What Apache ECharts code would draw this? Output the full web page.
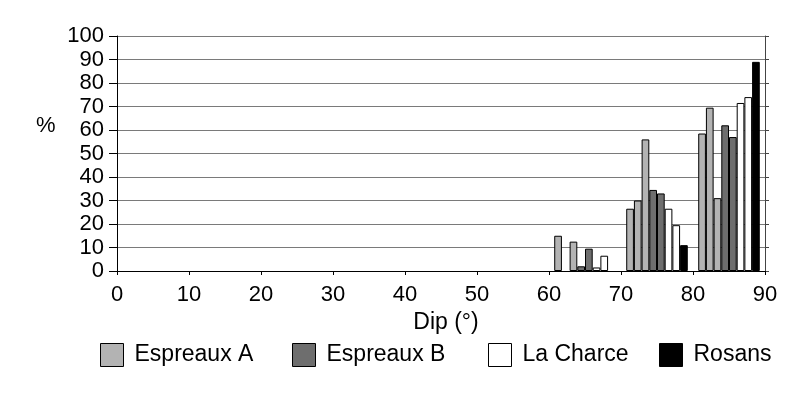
<!DOCTYPE html>
<html>
<head>
<meta charset="utf-8">
<script src="https://cdn.jsdelivr.net/npm/echarts@6/dist/echarts.min.js"></script>
<style>
html,body{margin:0;padding:0;background:#fff;}
#chart{width:806px;height:394px;}
</style>
</head>
<body>
<div id="chart"></div>
<script>
// Dip classes (10° bins); x tick labels at bin boundaries
var categories = ['0-10','10-20','20-30','30-40','40-50','50-60','60-70','70-80','80-90'];
var xTickLabels = [0,10,20,30,40,50,60,70,80,90];
var yTickLabels = [0,10,20,30,40,50,60,70,80,90,100];

// Percentages per bin (three Espreaux A sections, two Espreaux B, two La Charce, one Rosans)
var espreauxA1 = [0,0,0,0,0,0,15,26.5,58.5];
var espreauxA2 = [0,0,0,0,0,0,0,30,69.5];
var espreauxA3 = [0,0,0,0,0,0,12.5,56,31];
var espreauxB1 = [0,0,0,0,0,0,2,34.5,62];
var espreauxB2 = [0,0,0,0,0,0,9.5,33,57];
var laCharce1  = [0,0,0,0,0,0,1.5,26.5,71.5];
var laCharce2  = [0,0,0,0,0,0,6.5,19.5,74];
var rosans     = [0,0,0,0,0,0,0,11,89];

var legendNames = ['Espreaux A','Espreaux B','La Charce','Rosans'];
var colors = {'Espreaux A':'#b3b3b3','Espreaux B':'#6e6e6e','La Charce':'#ffffff','Rosans':'#000000'};

var FONT = '"Liberation Sans", Arial, sans-serif';

function mkSeries(name, data){
  return {
    type:'bar', name:name,
    // empty classes (0 %) draw no bar
    data:data.map(function(v){ return v === 0 ? null : v; }),
    xAxisIndex:0, yAxisIndex:0,
    barGap:'0%', barCategoryGap:'14.5%',
    itemStyle:{color:colors[name], borderColor:'#000', borderWidth:1},
    emphasis:{disabled:true}, animation:false
  };
}

var series = [
  mkSeries('Espreaux A', espreauxA1),
  mkSeries('Espreaux A', espreauxA2),
  mkSeries('Espreaux A', espreauxA3),
  mkSeries('Espreaux B', espreauxB1),
  mkSeries('Espreaux B', espreauxB2),
  mkSeries('La Charce', laCharce1),
  mkSeries('La Charce', laCharce2),
  mkSeries('Rosans', rosans)
];

var legendLefts = [100, 292, 488, 659];
var legends = legendNames.map(function(n, i){
  return {
    data:[n], left:legendLefts[i], top:343, padding:0,
    itemWidth:23, itemHeight:23, itemGap:0,
    icon:'rect',
    itemStyle:{borderColor:'#000', borderWidth:1},
    textStyle:{fontFamily:FONT, fontSize:23, color:'#000', padding:[0,0,0,6]},
    selectedMode:false
  };
});

var chart = echarts.init(document.getElementById('chart'), null, {renderer:'canvas'});
chart.setOption({
  backgroundColor:'#ffffff',
  animation:false,
  grid:{left:117, right:41, top:36, bottom:123, containLabel:false},
  legend:legends,
  xAxis:[
    {
      type:'category', data:categories, position:'bottom',
      axisLine:{show:true, lineStyle:{color:'#000', width:1}},
      axisTick:{show:false}, axisLabel:{show:false}, splitLine:{show:false}
    },
    {
      type:'value', min:xTickLabels[0], max:xTickLabels[xTickLabels.length-1], interval:10,
      position:'bottom',
      axisLine:{show:false},
      axisTick:{show:true, inside:false, length:4, lineStyle:{color:'#000'}},
      axisLabel:{show:true, fontFamily:FONT, fontSize:22, color:'#000', margin:13},
      splitLine:{show:false},
      name:'Dip (°)', nameLocation:'middle', nameGap:27,
      nameTextStyle:{fontFamily:FONT, fontSize:23, color:'#000', padding:[0,0,0,10]}
    }
  ],
  yAxis:[
    {
      type:'value', min:yTickLabels[0], max:yTickLabels[yTickLabels.length-1], interval:10,
      axisLine:{show:true, lineStyle:{color:'#000', width:1}},
      axisTick:{show:true, inside:false, length:8, lineStyle:{color:'#000'}},
      axisLabel:{fontFamily:FONT, fontSize:22, color:'#000', margin:13},
      splitLine:{show:true, lineStyle:{color:'#7a7a7a', width:1}}
    },
    {
      type:'value', position:'right', min:yTickLabels[0], max:yTickLabels[yTickLabels.length-1], interval:10,
      axisLine:{show:true, lineStyle:{color:'#444', width:1}},
      axisTick:{show:true, inside:false, length:4, lineStyle:{color:'#444'}},
      axisLabel:{show:false}, splitLine:{show:false}
    }
  ],
  graphic:[
    {type:'text', left:36, top:115, style:{text:'%', font:'22px ' + FONT, fill:'#000'}}
  ],
  series:series
});
</script>
</body>
</html>
